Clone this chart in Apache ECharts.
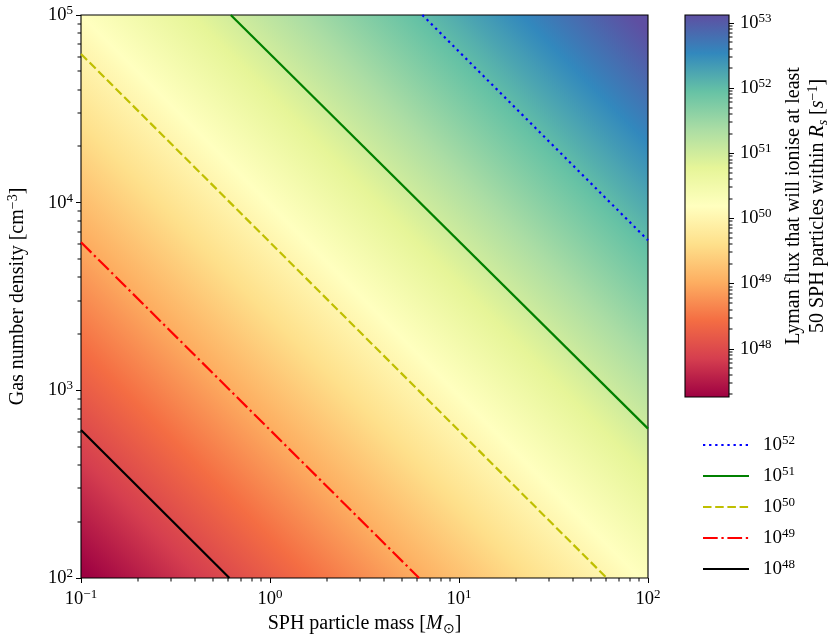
<!DOCTYPE html>
<html><head><meta charset="utf-8">
<script src="https://cdn.jsdelivr.net/npm/echarts@6/dist/echarts.min.js"></script>
<style>html,body{margin:0;padding:0;background:#fff}#c{width:830px;height:640px}</style>
</head><body><div id="c"></div>
<script>
// ---- data ----
const massRange = [0.1, 100];            // SPH particle mass [M_sun]
const densityRange = [100, 1e5];         // gas number density [cm^-3]
const fieldLogQCorners = [47.21, 53.21]; // log10 flux at (min mass,min density) and (max mass,max density)
const colorbarLogRange = [47.26, 53.12]; // colour bar extent, log10 flux
const colorbarTicks = [48, 49, 50, 51, 52, 53];
const contourLevels = ['1e52', '1e51', '1e50', '1e49', '1e48'];
const contour1e52 = [[6.4, 1e5], [100, 6300]];
const contour1e51 = [[0.62, 1e5], [100, 625]];
const contour1e50 = [[0.1, 62000], [60.5, 100]];
const contour1e49 = [[0.1, 6150], [6.15, 100]];
const contour1e48 = [[0.1, 615], [0.61, 100]];

// ---- minor tick positions (2..9 x 10^d) ----
const massMinorTicks = [0.2, 0.3, 0.4, 0.5, 0.6, 0.7, 0.8, 0.9, 2, 3, 4, 5, 6, 7, 8, 9, 20, 30, 40, 50, 60, 70, 80, 90];
const densityMinorTicks = [200, 300, 400, 500, 600, 700, 800, 900, 2000, 3000, 4000, 5000, 6000, 7000, 8000, 9000,
  20000, 30000, 40000, 50000, 60000, 70000, 80000, 90000];
const colorbarMinorMantissa = [2, 3, 4, 5, 6, 7, 8, 9];
const colorbarMinorTicks = [];
for (let d = 47; d <= 53; d++) {
  colorbarMinorMantissa.forEach(k => {
    const lv = d + Math.log10(k);
    if (lv > colorbarLogRange[0] && lv < colorbarLogRange[1]) colorbarMinorTicks.push(lv);
  });
}

// ---- styling ----
const F = 'Liberation Serif';
const spectral = ['#9e0142','#d53e4f','#f46d43','#fdae61','#fee08b','#ffffbf','#e6f598','#abdda4','#66c2a5','#3288bd','#5e4fa2'];

function sup(e) { return e < 0 ? '\u2212' + (-e) : String(e); }
function powLabel(v) { return '{b|10}{s|' + sup(Math.round(Math.log10(v))) + '}'; }

const tickRich = {
  b: { fontFamily: F, fontSize: 18.5, lineHeight: 22, color: '#000' },
  s: { fontFamily: F, fontSize: 13, lineHeight: 9, verticalAlign: 'top', color: '#000' }
};
const nameRich = {
  t: { fontFamily: F, fontSize: 20, lineHeight: 24, color: '#000' },
  i: { fontFamily: F, fontSize: 20, lineHeight: 24, fontStyle: 'italic', color: '#000' },
  sub: { fontFamily: F, fontSize: 14, lineHeight: 16, verticalAlign: 'bottom', color: '#000' },
  subi: { fontFamily: F, fontSize: 14, lineHeight: 16, verticalAlign: 'bottom', fontStyle: 'italic', color: '#000' },
  sup: { fontFamily: F, fontSize: 14, lineHeight: 10, verticalAlign: 'top', color: '#000' }
};

function fieldStops() {
  const [f0, f1] = fieldLogQCorners, [c0, c1] = colorbarLogRange;
  const stops = [{ offset: 0, color: spectral[0] }];
  spectral.forEach((col, i) => {
    const q = c0 + (c1 - c0) * i / (spectral.length - 1);
    const t = Math.min(1, Math.max(0, (q - f0) / (f1 - f0)));
    stops.push({ offset: t, color: col });
  });
  stops.push({ offset: 1, color: spectral[spectral.length - 1] });
  return stops;
}
function barStops() {
  return spectral.map((c, i) => ({ offset: i / (spectral.length - 1), color: c }));
}

const lineDefs = [
  { name: '1e52', data: contour1e52, color: '#0000ff', type: [2.3, 3.8] },
  { name: '1e51', data: contour1e51, color: '#008000', type: 'solid' },
  { name: '1e50', data: contour1e50, color: '#bfbf00', type: [8.5, 3.7] },
  { name: '1e49', data: contour1e49, color: '#ff0000', type: [14.7, 3.7, 2.3, 3.7] },
  { name: '1e48', data: contour1e48, color: '#000000', type: 'solid' }
];

const tickStyle = { color: '#000', width: 1 };
const MINOR = 3.5;

// minor ticks as small filled rects placed through the axes' scales
function minorTickSeries(xIdx, yIdx, data, dir) {
  return {
    type: 'custom', xAxisIndex: xIdx, yAxisIndex: yIdx, z: 10, clip: false, silent: true,
    data: data, encode: { x: 0, y: 1 },
    renderItem: (params, api) => {
      const p = api.coord([api.value(0), api.value(1)]);
      const x = Math.round(p[0]), y = Math.round(p[1]);
      let shape;
      if (dir === 'down') shape = { x: x - 0.5, y: y, width: 1, height: MINOR };
      else if (dir === 'left') shape = { x: x - MINOR, y: y - 0.5, width: MINOR, height: 1 };
      else shape = { x: x, y: y - 0.5, width: MINOR, height: 1 };
      return { type: 'rect', shape: shape, style: { fill: '#000' } };
    }
  };
}

const chart = echarts.init(document.getElementById('c'), null, { renderer: 'canvas' });
chart.setOption({
  animation: false,
  backgroundColor: '#fff',
  textStyle: { fontFamily: F },
  grid: [
    { left: 81, top: 15, width: 567, height: 563, containLabel: false, outerBoundsMode: 'none' },
    { left: 685, top: 15, width: 44, height: 382, containLabel: false, outerBoundsMode: 'none' }
  ],
  xAxis: [
    {
      gridIndex: 0, type: 'log', logBase: 10, min: massRange[0], max: massRange[1], position: 'bottom', z: 5,
      axisLine: { show: false, onZero: false }, splitLine: { show: false }, minorTick: { show: false },
      axisTick: { show: true, inside: false, length: 5, lineStyle: tickStyle },
      axisLabel: { margin: 10, formatter: powLabel, rich: tickRich },
      name: '{t|SPH particle mass [}{i|M}{sub|\u2299}{t|]}',
      nameLocation: 'middle', nameGap: 34, nameMoveOverlap: false,
      nameTextStyle: { rich: nameRich }
    },
    { gridIndex: 1, type: 'value', min: 0, max: 1, show: false }
  ],
  yAxis: [
    {
      gridIndex: 0, type: 'log', logBase: 10, min: densityRange[0], max: densityRange[1], position: 'left', z: 5,
      axisLine: { show: false, onZero: false }, splitLine: { show: false }, minorTick: { show: false },
      axisTick: { show: true, inside: false, length: 5, lineStyle: tickStyle },
      axisLabel: { margin: 8, formatter: powLabel, rich: tickRich },
      name: '{t|Gas number density [cm}{sup|\u22123}{t|]}',
      nameLocation: 'middle', nameGap: 51, nameRotate: 90, nameMoveOverlap: false,
      nameTextStyle: { rich: nameRich }
    },
    {
      gridIndex: 1, type: 'value', min: colorbarLogRange[0], max: colorbarLogRange[1], position: 'right', z: 5,
      axisLine: { show: false, onZero: false }, splitLine: { show: false },
      axisTick: { show: true, inside: false, length: 5, lineStyle: tickStyle, customValues: colorbarTicks },
      axisLabel: { margin: 11, customValues: colorbarTicks, formatter: v => '{b|10}{s|' + Math.round(v) + '}', rich: tickRich },
      name: '{t|Lyman flux that will ionise at least}\n{t|50 SPH particles within }{i|R}{subi|s}{t| [}{i|s}{sup|\u22121}{t|]}',
      nameLocation: 'middle', nameGap: 53, nameRotate: 90, nameMoveOverlap: false,
      nameTextStyle: { rich: nameRich, align: 'center' }
    }
  ],
  legend: {
    data: contourLevels, orient: 'vertical', left: 697, top: 429,
    itemWidth: 46, itemHeight: 14, itemGap: 10.5,
    itemStyle: { opacity: 0 },
    formatter: n => '{b|10}{s|' + n.slice(2) + '}',
    textStyle: { rich: {
      b: { fontFamily: F, fontSize: 19, lineHeight: 22, color: '#000', padding: [0, 0, 0, 9] },
      s: { fontFamily: F, fontSize: 13, lineHeight: 9, verticalAlign: 'top', color: '#000' }
    } }
  },
  series: [
    {
      type: 'custom', name: 'field', xAxisIndex: 0, yAxisIndex: 0, z: 1, clip: false, silent: true,
      data: [[massRange[0], densityRange[0], massRange[1], densityRange[1]]],
      encode: { x: [0, 2], y: [1, 3] },
      renderItem: (params, api) => {
        const p0 = api.coord([api.value(0), api.value(1)]);
        const p1 = api.coord([api.value(2), api.value(3)]);
        return {
          type: 'rect',
          shape: { x: p0[0], y: p1[1], width: p1[0] - p0[0], height: p0[1] - p1[1] },
          style: { fill: new echarts.graphic.LinearGradient(p0[0], p0[1], p1[0], p1[1], fieldStops(), true), stroke: '#000', lineWidth: 1.1 }
        };
      }
    },
    {
      type: 'custom', name: 'colorbar', xAxisIndex: 1, yAxisIndex: 1, z: 1, clip: false, silent: true,
      data: [[0, colorbarLogRange[0], 1, colorbarLogRange[1]]],
      encode: { x: [0, 2], y: [1, 3] },
      renderItem: (params, api) => {
        const p0 = api.coord([api.value(0), api.value(1)]);
        const p1 = api.coord([api.value(2), api.value(3)]);
        return {
          type: 'rect',
          shape: { x: p0[0], y: p1[1], width: p1[0] - p0[0], height: p0[1] - p1[1] },
          style: { fill: new echarts.graphic.LinearGradient(0, p0[1], 0, p1[1], barStops(), true), stroke: '#000', lineWidth: 1.1 }
        };
      }
    },
    minorTickSeries(0, 0, massMinorTicks.map(v => [v, densityRange[0]]), 'down'),
    minorTickSeries(0, 0, densityMinorTicks.map(v => [massRange[0], v]), 'left'),
    minorTickSeries(1, 1, colorbarMinorTicks.map(v => [1, v]), 'right')
  ].concat(lineDefs.map(d => ({
    type: 'line', name: d.name, xAxisIndex: 0, yAxisIndex: 0, z: 3,
    data: d.data, symbol: 'none', showSymbol: false, silent: true,
    lineStyle: { color: d.color, width: 2.2, type: d.type },
    itemStyle: { color: d.color }
  })))
});
</script></body></html>
